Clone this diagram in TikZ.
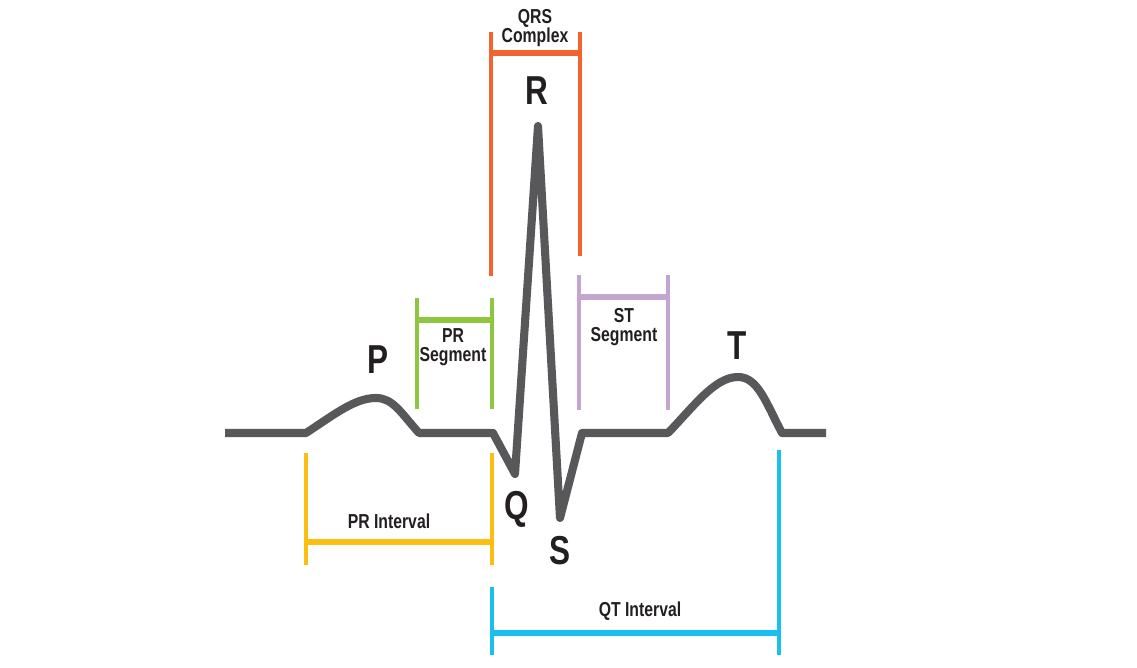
\documentclass[tikz,border=0pt]{standalone}
\usepackage{fontspec}
\newfontfamily\cond{Liberation Sans}[FakeStretch=0.78]
\definecolor{ecg}{HTML}{58585A}
\definecolor{qrs}{HTML}{F26330}
\definecolor{prs}{HTML}{8DC63F}
\definecolor{sts}{HTML}{C3A5CF}
\definecolor{pri}{HTML}{FDBE14}
\definecolor{qti}{HTML}{18BFEF}
\definecolor{txt}{HTML}{231F20}
\begin{document}
\begin{tikzpicture}[x=0.02cm,y=-0.02cm,
  wave/.style={draw=ecg,line width=4.6pt,line join=round},
  tick/.style={line width=1.8pt},
  bar/.style={line width=3.8pt},
  small/.style={font=\cond\bfseries\fontsize{11.5}{11}\selectfont,text=txt,align=center,inner sep=0pt},
  big/.style={font=\cond\bfseries\fontsize{23}{23}\selectfont,text=txt,inner sep=0pt}]
\useasboundingbox (0,0) rectangle (1137,668);
% ECG trace
\draw[wave] (225,433) -- (306,433)
  .. controls (335,414) and (355,398) .. (376,398)
  .. controls (393,398) and (401,413) .. (419,433)
  -- (493,433) -- (515,474) -- (538,126) -- (560,518) -- (582,433) -- (668,433)
  .. controls (695,405) and (715,377) .. (738,377)
  .. controls (758,377) and (766,403) .. (782,433) -- (826,433);
% QRS complex
\draw[qrs,tick] (491,32) -- (491,276);
\draw[qrs,tick] (580,32) -- (580,256);
\draw[qrs,bar] (491,53) -- (580,53);
\node[small] (qrslbl) at (535,28) {QRS\\Complex};
\node[big] (R) at (537,91) {R};
% PR segment
\draw[prs,tick] (417,298) -- (417,409);
\draw[prs,tick] (492,298) -- (492,409);
\draw[prs,bar] (417,320) -- (492,320);
\node[small] (prseg) at (453,347) {PR\\Segment};
% ST segment
\draw[sts,tick] (579,275) -- (579,410);
\draw[sts,tick] (668,275) -- (668,410);
\draw[sts,bar] (579,297) -- (668,297);
\node[small] (stseg) at (624,327) {ST\\Segment};
% PR interval
\draw[pri,tick] (306,453) -- (306,565);
\draw[pri,tick] (492,453) -- (492,565);
\draw[pri,bar] (306,542) -- (492,542);
\node[small] (print) at (389,521) {PR Interval};
% QT interval
\draw[qti,tick] (492,587) -- (492,655);
\draw[qti,tick] (779,450) -- (779,655);
\draw[qti,bar] (492,633) -- (779,633);
\node[small] (qtint) at (640,611) {QT Interval};
% wave labels
\node[big] (P) at (378,360) {P};
\node[big] (T) at (737,346) {T};
\node[big] (Q) at (517,509) {Q};
\node[big] (S) at (560,551) {S};
\end{tikzpicture}
\end{document}
